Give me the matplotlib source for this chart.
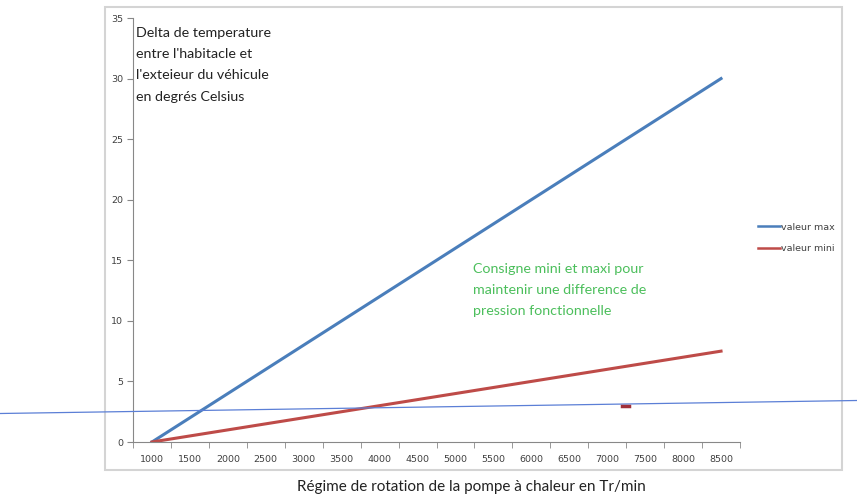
import matplotlib
matplotlib.use("Agg")
import matplotlib.pyplot as plt
from matplotlib.lines import Line2D
from matplotlib.patches import Rectangle

categories = ["1000", "1500", "2000", "2500", "3000", "3500", "4000", "4500",
              "5000", "5500", "6000", "6500", "7000", "7500", "8000", "8500"]
valeur_max = [0, 2, 4, 6, 8, 10, 12, 14, 16, 18, 20, 22, 24, 26, 28, 30]
valeur_mini = [0, 0.5, 1, 1.5, 2, 2.5, 3, 3.5, 4, 4.5, 5, 5.5, 6, 6.5, 7, 7.5]
yticks = [0, 5, 10, 15, 20, 25, 30, 35]

W, H = 857, 494
fig = plt.figure(figsize=(W / 100, H / 100), dpi=100)
fig.patch.set_facecolor("white")

# outer chart border
fig.add_artist(Rectangle((105 / W, 1 - 470 / H), (842 - 105) / W, (470 - 7) / H,
                         transform=fig.transFigure, fill=False,
                         edgecolor="#d4d4d4", linewidth=1.5))

ax = fig.add_axes([133 / W, 1 - 442 / H, 607 / W, 424 / H])
x = list(range(len(categories)))
ax.plot(x, valeur_max, color="#4a7ebb", linewidth=2.2, label="valeur max")
ax.plot(x, valeur_mini, color="#be4b48", linewidth=2.2, label="valeur mini")

ax.set_xlim(-0.5, len(categories) - 0.5)
ax.set_ylim(0, 35)
ax.set_yticks(yticks)
ax.set_yticklabels([str(v) for v in yticks], fontsize=6.8, color="#404040")
ax.set_xticks(x)
ax.set_xticklabels(categories, fontsize=6.8, color="#404040")
ax.set_xticks([i - 0.5 for i in range(len(categories) + 1)], minor=True)
ax.tick_params(axis="x", which="major", length=0, pad=9)
ax.tick_params(axis="x", which="minor", length=4, color="#888888", direction="out")
ax.tick_params(axis="y", length=4, color="#888888", direction="out", pad=3)
for s in ["top", "right"]:
    ax.spines[s].set_visible(False)
for s in ["left", "bottom"]:
    ax.spines[s].set_color("#888888")
    ax.spines[s].set_linewidth(0.8)

font = ["Lato", "DejaVu Sans"]
fig.text(136 / W, 1 - 27 / H, "Delta de temperature\nentre l'habitacle et\nl'exteieur du véhicule\nen degrés Celsius",
         ha="left", va="top", fontsize=10.3, color="#222222",
         family=font, linespacing=1.92)
fig.text(473 / W, 1 - 263 / H, "Consigne mini et maxi pour\nmaintenir une difference de\npression fonctionnelle",
         ha="left", va="top", fontsize=10.3, color="#4cbf5c",
         family=font, linespacing=1.92)
fig.text(471 / W, 1 - 487 / H, "Régime de rotation de la pompe à chaleur en Tr/min",
         ha="center", va="center", fontsize=11, color="#222222", family=font)

leg = fig.legend(loc="upper left", bbox_to_anchor=(754 / W, 1 - 219 / H), frameon=False,
                 fontsize=6.8, handlelength=2.4, handletextpad=0.1, labelspacing=1.3,
                 borderaxespad=0)
for line in leg.get_lines():
    line.set_linewidth(1.8)
for t in leg.get_texts():
    t.set_color("#404040")

# hand-drawn thin blue line across the figure and small red mark
fig.add_artist(Line2D([0, 1], [1 - 413.5 / H, 1 - 400.5 / H], transform=fig.transFigure,
                      color="#5b7fd6", linewidth=0.9))
fig.add_artist(Line2D([622 / W, 629 / W], [1 - 406 / H, 1 - 406 / H], transform=fig.transFigure,
                      color="#a0303a", linewidth=2.5))

fig.savefig("out.png", dpi=100)
